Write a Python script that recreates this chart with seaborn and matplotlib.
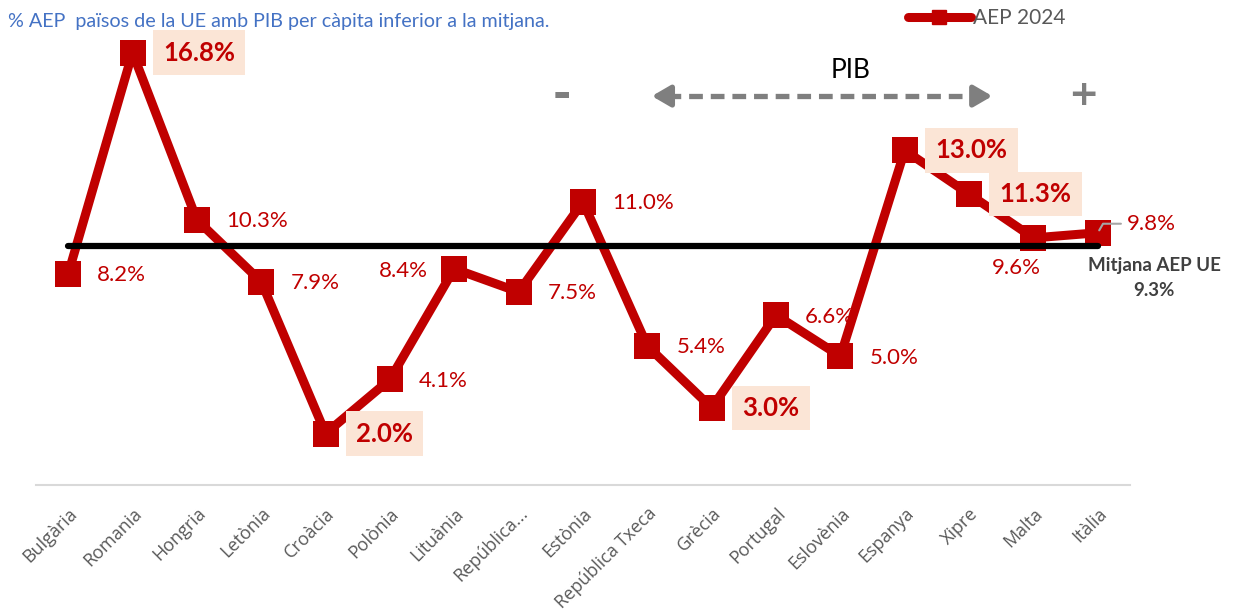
import matplotlib
matplotlib.use("Agg")
import matplotlib.pyplot as plt
from matplotlib.lines import Line2D
import seaborn as sns
import pandas as pd

countries = ["Bulgària", "Romania", "Hongria", "Letònia", "Croàcia", "Polònia",
             "Lituània", "República...", "Estònia", "República Txeca", "Grècia",
             "Portugal", "Eslovènia", "Espanya", "Xipre", "Malta", "Itàlia"]
aep_2024 = [8.2, 16.8, 10.3, 7.9, 2.0, 4.1, 8.4, 7.5, 11.0, 5.4, 3.0, 6.6, 5.0,
            13.0, 11.3, 9.6, 9.8]
eu_mean = 9.3
highlight = ["Romania", "Croàcia", "Grècia", "Espanya", "Xipre"]
label_side = {"Lituània": "left", "Malta": "below", "Itàlia": "leader"}

RED = "#C00000"
GRAY = "#595959"

sns.set_theme(style="white")
plt.rcParams["font.family"] = ["Lato", "DejaVu Sans"]

df = pd.DataFrame({"pos": range(len(countries)), "country": countries, "aep": aep_2024})

fig = plt.figure(figsize=(12.4, 6.15), dpi=100)
ax = fig.add_axes([36 / 1240, 1 - 485 / 615, (1130 - 36) / 1240, 463.3 / 615])

sns.lineplot(data=df, x="pos", y="aep", ax=ax, color=RED, lw=6.5, marker="s",
             markersize=19, markeredgewidth=0, zorder=3, legend=False)

# EU mean line
ax.plot([df["pos"].min(), df["pos"].max()], [eu_mean, eu_mean], color="black",
        lw=4.5, solid_capstyle="round", zorder=4)
ax.annotate(f"Mitjana AEP UE\n{eu_mean:.1f}%", xy=(df["pos"].max(), eu_mean),
            xytext=(40.5, -8), textcoords="offset points", ha="center", va="top",
            fontsize=13.5, fontweight="bold", color="#404040", linespacing=1.6,
            zorder=5)

# Data labels
for i, (c, v) in enumerate(zip(countries, aep_2024)):
    txt = f"{v:.1f}%"
    if c in highlight:
        ax.annotate(txt, xy=(i, v), xytext=(22, 0), textcoords="offset points",
                    ha="left", va="center", fontsize=18.5, fontweight="bold",
                    color=RED, zorder=6,
                    bbox=dict(boxstyle="square,pad=0.4", fc="#FBE5D6", ec="none"))
    elif label_side.get(c) == "left":
        ax.annotate(txt, xy=(i, v), xytext=(-19, -1.5), textcoords="offset points",
                    ha="right", va="center", fontsize=16, color=RED, zorder=6)
    elif label_side.get(c) == "below":
        ax.annotate(txt, xy=(i, v), xytext=(-12, -22), textcoords="offset points",
                    ha="center", va="center", fontsize=16, color=RED, zorder=6)
    elif label_side.get(c) == "leader":
        ax.annotate(txt, xy=(i, v), xytext=(21, 6.5), textcoords="offset points",
                    ha="left", va="center", fontsize=16, color=RED, zorder=6,
                    arrowprops=dict(arrowstyle="-", color="#A6A6A6", lw=1.5,
                                    shrinkA=2, shrinkB=2,
                                    connectionstyle="angle,angleA=0,angleB=60,rad=0"))
    else:
        ax.annotate(txt, xy=(i, v), xytext=(21, -1), textcoords="offset points",
                    ha="left", va="center", fontsize=16, color=RED, zorder=6)

# PIB arrow annotation
ARW = "#7F7F7F"
ax.text(12.16, 16.12, "PIB", ha="center", va="center", fontsize=19, color="black")
ax.text(7.67, 15.15, "-", ha="center", va="center", fontsize=32, fontweight="bold",
        color=ARW, family="DejaVu Sans")
ax.text(15.78, 15.15, "+", ha="center", va="center", fontsize=26, fontweight="bold",
        color=ARW, family="DejaVu Sans")
ax.plot([9.3, 14.12], [15.11, 15.11], color=ARW, lw=3.8, ls=(0, (2.6, 1.5)),
        solid_capstyle="butt")
ax.annotate("", xy=(9.07, 15.11), xytext=(9.35, 15.11),
            arrowprops=dict(arrowstyle="-|>,head_length=0.55,head_width=0.32",
                            color=ARW, lw=3.8, shrinkA=0, shrinkB=0, mutation_scale=20))
ax.annotate("", xy=(14.36, 15.11), xytext=(14.08, 15.11),
            arrowprops=dict(arrowstyle="-|>,head_length=0.55,head_width=0.32",
                            color=ARW, lw=3.8, shrinkA=0, shrinkB=0, mutation_scale=20))

# Axes styling
ax.set_xlim(-0.5, len(countries) - 0.5)
ax.set_ylim(0, 18)
ax.set_xticks(range(len(countries)))
ax.set_xticklabels(countries, rotation=45, ha="right", va="top", rotation_mode="anchor",
                   fontsize=13, color=GRAY, family=["Open Sans", "DejaVu Sans"])
ax.tick_params(axis="x", length=0, pad=14)
ax.set_yticks([])
ax.set_xlabel("")
ax.set_ylabel("")
for s in ["top", "right", "left"]:
    ax.spines[s].set_visible(False)
ax.spines["bottom"].set_color("#D9D9D9")
ax.spines["bottom"].set_linewidth(1.5)
ax.patch.set_alpha(0)

# Title
fig.text(8 / 1240, 1 - 22 / 615,
         "% AEP  països de la UE amb PIB per càpita inferior a la mitjana.",
         ha="left", va="center", fontsize=14.2, color="#4472C4")

# Legend
handle = Line2D([], [], color=RED, lw=6.5, marker="s", markersize=10,
                solid_capstyle="round")
fig.legend([handle], ["AEP 2024"], loc="center left",
           bbox_to_anchor=(908 / 1240, 1 - 18 / 615), frameon=False,
           fontsize=15, labelcolor=GRAY, handlelength=3.0, handletextpad=0.1,
           borderpad=0, borderaxespad=0)

fig.savefig("out.png", dpi=100)
